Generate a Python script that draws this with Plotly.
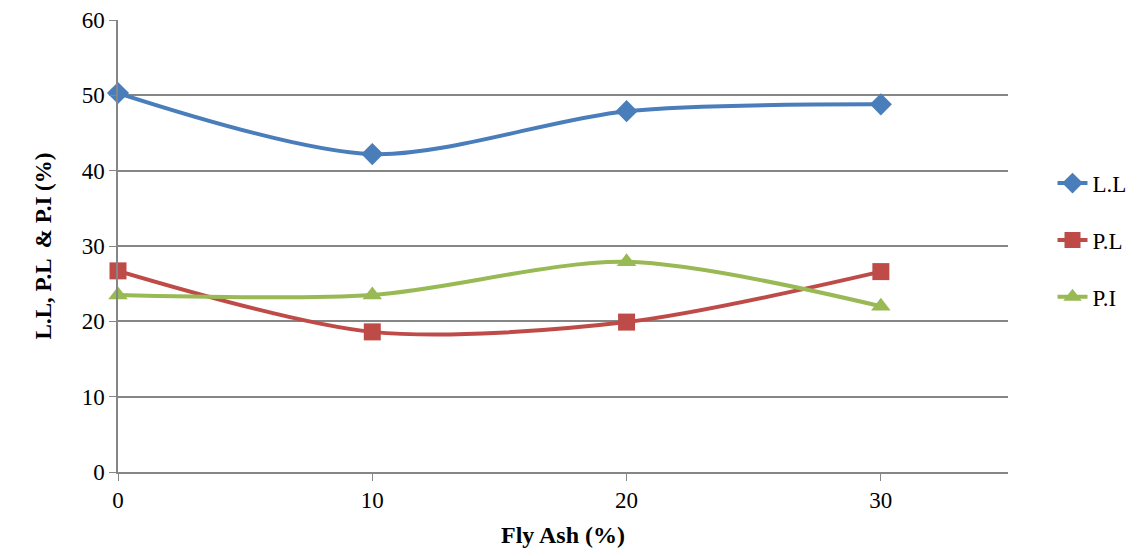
import plotly.graph_objects as go

fly_ash = [0, 10, 20, 30]
liquid_limit = [50.3, 42.2, 47.9, 48.8]
plastic_limit = [26.7, 18.6, 19.9, 26.6]
plasticity_index = [23.5, 23.5, 27.9, 22.0]

series = [
    ("L.L", liquid_limit, "#4A7EBB", "diamond", 17),
    ("P.L", plastic_limit, "#BE4B48", "square", 17),
    ("P.I", plasticity_index, "#98B954", "triangle-up", 17),
]

serif = "Liberation Serif, Times New Roman, serif"

fig = go.Figure()
for i, (name, vals, color, symbol, size) in enumerate(series):
    fig.add_trace(go.Scatter(
        x=fly_ash, y=vals, name=name, mode="lines+markers",
        line=dict(color=color, width=4, shape="spline", smoothing=0.85),
        marker=dict(symbol=symbol, size=size, color=color),
        legendgroup=f"g{i}", cliponaxis=False,
    ))

fig.update_layout(
    width=1148, height=556,
    margin=dict(l=118, r=140, t=20, b=84),
    plot_bgcolor="white", paper_bgcolor="white",
    font=dict(family=serif, size=23, color="#000"),
    legend=dict(x=1.05, y=0.513, xanchor="left", yanchor="middle",
                font=dict(family=serif, size=23, color="#000"),
                tracegroupgap=24, bgcolor="rgba(0,0,0,0)", borderwidth=0),
    xaxis=dict(
        range=[0, 35], tickvals=[0, 10, 20, 30], showgrid=False,
        showline=True, linecolor="#868686", linewidth=1.5,
        ticks="outside", ticklen=7, tickcolor="#868686", zeroline=False,
        tickfont=dict(family=serif, size=23), automargin=False,
        title=dict(text="<b>Fly Ash (%)</b>", font=dict(family=serif, size=24), standoff=14),
    ),
    yaxis=dict(
        range=[0, 60], dtick=10, showgrid=True, gridcolor="#868686", gridwidth=1.5,
        showline=True, linecolor="#868686", linewidth=1.5,
        ticks="outside", ticklen=7, tickcolor="#868686", zeroline=False,
        tickfont=dict(family=serif, size=23), automargin=False,
        title=dict(text="<b>L.L, P.L  & P.I (%)</b>", font=dict(family=serif, size=23), standoff=24),
    ),
)

fig.write_html("out.html")
